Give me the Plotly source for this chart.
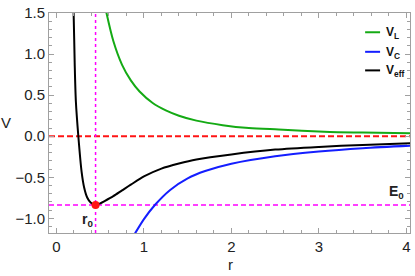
import plotly.graph_objects as go

# Values
r_L = [0.57, 0.65, 0.75, 0.85, 0.95, 1.10, 1.25, 1.40, 1.60, 1.90, 2.20, 2.54, 3.06, 3.50, 4.05]
V_L = [1.51, 1.16, 0.87, 0.68, 0.545, 0.405, 0.315, 0.25, 0.19, 0.135, 0.10, 0.082, 0.056, 0.045, 0.036]

r_C = [0.86, 0.88, 1.00, 1.13, 1.30, 1.50, 1.70, 2.00, 2.50, 3.00, 3.50, 4.05]
V_C = [-1.25, -1.216, -1.01, -0.832, -0.654, -0.513, -0.424, -0.335, -0.244, -0.187, -0.146, -0.114]

r_eff = [0.19, 0.196, 0.208, 0.222, 0.25, 0.287, 0.317, 0.351, 0.39, 0.447, 0.50, 0.55, 0.65,
         0.75, 0.85, 1.00, 1.20, 1.40, 1.60, 2.00, 2.50, 3.00, 3.50, 4.05]
V_eff = [1.62, 1.50, 0.90, 0.42, 0.0, -0.43, -0.627, -0.746, -0.806, -0.837, -0.818, -0.79, -0.73,
         -0.66, -0.59, -0.49, -0.395, -0.333, -0.284, -0.222, -0.163, -0.13, -0.106, -0.085]

r0 = 0.447
E0 = -0.837

x_ticks = [0, 1, 2, 3, 4]
y_ticks = [1.5, 1.0, 0.5, 0.0, -0.5, -1.0]
y_tick_labels = ["1.5", "1.0", "0.5", "0.0", "\u22120.5", "\u22121.0"]

x_range = [-0.0855, 4.042]
y_range = [-1.179, 1.5015]

GREEN = "rgb(20,170,20)"
BLUE = "rgb(20,30,255)"
RED = "rgb(255,20,20)"
MAGENTA = "rgb(255,0,255)"
FONT = "Liberation Sans, Arial, sans-serif"

fig = go.Figure()

# reference lines
fig.add_trace(go.Scatter(x=x_range, y=[0, 0], mode="lines",
                         line=dict(color=RED, width=2, dash="6px,3px"), showlegend=False, hoverinfo="skip"))
fig.add_trace(go.Scatter(x=x_range, y=[E0, E0], mode="lines",
                         line=dict(color=MAGENTA, width=1.5, dash="5px,3px"), showlegend=False, hoverinfo="skip"))
fig.add_trace(go.Scatter(x=[r0, r0], y=y_range, mode="lines",
                         line=dict(color=MAGENTA, width=1.5, dash="3px,3px"), showlegend=False, hoverinfo="skip"))

fig.add_trace(go.Scatter(x=r_L, y=V_L, mode="lines", line=dict(color=GREEN, width=2, shape="spline", smoothing=0.8),
                         name="V_L", showlegend=False))
fig.add_trace(go.Scatter(x=r_C, y=V_C, mode="lines", line=dict(color=BLUE, width=2, shape="spline", smoothing=0.8),
                         name="V_C", showlegend=False))
fig.add_trace(go.Scatter(x=r_eff, y=V_eff, mode="lines", line=dict(color="black", width=2, shape="spline", smoothing=0.8),
                         name="V_eff", showlegend=False))

fig.add_trace(go.Scatter(x=[r0], y=[E0], mode="markers", marker=dict(color=RED, size=8),
                         showlegend=False, hoverinfo="skip"))

axis_common = dict(
    showline=True, linecolor="#a0a0a0", linewidth=1, mirror="ticks",
    ticks="inside", ticklen=5, tickcolor="#a0a0a0", tickwidth=1,
    showgrid=False, zeroline=False, ticklabeloverflow="allow",
    tickfont=dict(family=FONT, size=15, color="#222"),
)

fig.update_xaxes(range=x_range, tickvals=x_ticks,
                 minor=dict(dtick=0.2, ticks="inside", ticklen=3, tickcolor="#a0a0a0", showgrid=False),
                 **axis_common)
fig.update_yaxes(range=y_range, tickvals=y_ticks, ticktext=y_tick_labels,
                 minor=dict(dtick=0.1, ticks="inside", ticklen=3, tickcolor="#a0a0a0", showgrid=False),
                 **axis_common)

L, R, T, B = 49, 4, 8, 43
W, H = 415, 276
pw, ph = W - L - R, H - T - B

def px(xp):
    return (xp - L) / pw

def py(yp):
    return (H - B - yp) / ph

ann = []
ann.append(dict(text="V", x=px(6), y=py(120), xref="paper", yref="paper", showarrow=False,
                xanchor="center", yanchor="middle", font=dict(family=FONT, size=15, color="#222")))
ann.append(dict(text="r", x=px(231), y=py(265), xref="paper", yref="paper", showarrow=False,
                xanchor="center", yanchor="middle", font=dict(family=FONT, size=15, color="#222")))
ann.append(dict(text="<b>r<sub>0</sub></b>", x=0.36, y=-1.02, xref="x", yref="y", showarrow=False,
                xanchor="center", yanchor="middle", font=dict(family=FONT, size=14, color="#222")))
ann.append(dict(text="<b>E<sub>0</sub></b>", x=3.89, y=-0.68, xref="x", yref="y", showarrow=False,
                xanchor="center", yanchor="middle", font=dict(family=FONT, size=14, color="#222")))

# manual legend
leg_rows = [("<b>V<sub>L</sub></b>", GREEN, 27.7), ("<b>V<sub>C</sub></b>", BLUE, 47.7),
            ("<b>V<sub>eff</sub></b>", "black", 66.7)]
shapes = []
for txt, col, yp in leg_rows:
    shapes.append(dict(type="line", xref="paper", yref="paper", x0=px(366), x1=px(381),
                       y0=py(yp), y1=py(yp), line=dict(color=col, width=2)))
    ann.append(dict(text=txt, x=px(385), y=py(yp + 1), xref="paper", yref="paper", showarrow=False,
                    xanchor="left", yanchor="middle", font=dict(family=FONT, size=12, color="#111")))

fig.update_layout(
    width=W, height=H,
    margin=dict(l=L, r=R, t=T, b=B),
    plot_bgcolor="white", paper_bgcolor="white",
    annotations=ann, shapes=shapes, showlegend=False,
)

fig.write_html("out.html", config={"displayModeBar": False},
               post_script="document.body.style.margin='0px';")
